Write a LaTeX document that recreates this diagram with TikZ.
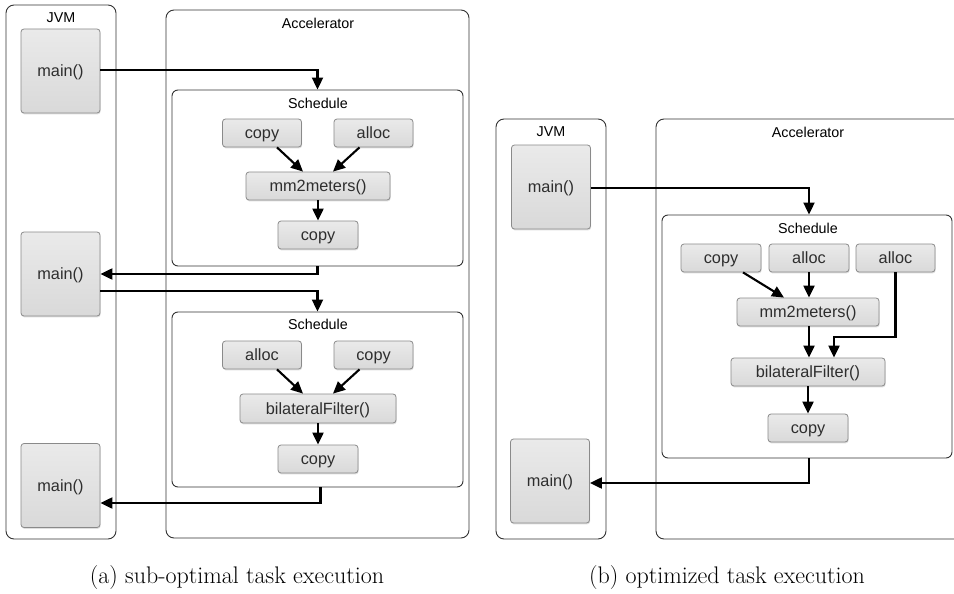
\documentclass[tikz,border=0pt]{standalone}
\usepackage{fontspec}
\setsansfont{Liberation Sans}
\usetikzlibrary{arrows.meta,shadows,calc}
\definecolor{taskborder}{HTML}{8A8A8A}
\definecolor{tasktop}{HTML}{EAEAEA}
\definecolor{taskbot}{HTML}{D9D9D9}
\definecolor{tasktext}{HTML}{2E2E2E}
\definecolor{frame}{HTML}{333333}
\newcommand{\tsk}[1]{\raisebox{-5.5pt}{#1}}
\tikzset{
  task/.style={draw=taskborder, line width=0.8pt, rounded corners=3pt,
    top color=tasktop, bottom color=taskbot, inner sep=0pt,
    minimum height=28pt, text height=0pt, text depth=0pt,
    drop shadow={shadow xshift=0.6pt, shadow yshift=-1.4pt, opacity=0.25},
    font=\sffamily\fontsize{16.3}{18}\selectfont, text=tasktext},
  mainbox/.style={task, minimum width=79pt, minimum height=84pt},
  container/.style={draw=frame, line width=0.9pt, rounded corners=8pt, fill=white, inner sep=0pt},
  lbl/.style={font=\sffamily\fontsize{14.3}{16}\selectfont, inner sep=0pt, text=black},
  arr/.style={line width=2.1pt, -{Triangle[length=12pt,width=11pt]}},
  captext/.style={font=\fontsize{24}{26}\selectfont, inner sep=0pt}
}
\begin{document}
\begin{tikzpicture}[x=1pt,y=-1pt]
\useasboundingbox (0,0) rectangle (954,594);
% ---------------- (a) ----------------
\node[container, minimum width=110pt, minimum height=534pt] (jvma) at (61,272) {};
\node[lbl] (jvmal) at (61,18) {JVM};
\node[container, minimum width=303pt, minimum height=528pt] (acca) at (317.5,274) {};
\node[lbl] (accal) at (318,23) {Accelerator};
\node[mainbox] (ma1) at (60.5,71) {\tsk{main()}};
\node[mainbox] (ma2) at (60.5,274) {\tsk{main()}};
\node[mainbox] (ma3) at (60.5,485.5) {\tsk{main()}};
\node[container, rounded corners=6pt, minimum width=291pt, minimum height=176pt] (sa1) at (317.5,178) {};
\node[lbl] (sa1l) at (318,103) {Schedule};
\node[task, minimum width=79pt] (ca1) at (262,133) {\tsk{copy}};
\node[task, minimum width=79pt] (aa1) at (373.5,133) {\tsk{alloc}};
\node[task, minimum width=144pt] (mma) at (318,186) {\tsk{mm2meters()}};
\node[task, minimum width=80pt] (ca2) at (318,235) {\tsk{copy}};
\node[container, rounded corners=6pt, minimum width=291pt, minimum height=175pt] (sa2) at (317.5,399.5) {};
\node[lbl] (sa2l) at (318,324) {Schedule};
\node[task, minimum width=79pt] (aa2) at (262,355) {\tsk{alloc}};
\node[task, minimum width=79pt] (ca3) at (373.5,355) {\tsk{copy}};
\node[task, minimum width=156pt, minimum height=29pt] (bfa) at (318,408.5) {\tsk{bilateralFilter()}};
\node[task, minimum width=80pt] (ca4) at (318,459) {\tsk{copy}};
% arrows (a)
\draw[arr] ([yshift=1pt]ma1.east) -| (sa1.north);
\draw[arr] (sa1.south) |- (ma2.east);
\draw[arr] ([yshift=-17pt]ma2.east) -| (sa2.north);
\draw[arr] ([xshift=3pt]sa2.south) |- ([yshift=-17.5pt]ma3.east);
\draw[arr] ([xshift=15pt]ca1.south) -- ([xshift=-15pt]mma.north);
\draw[arr] ([xshift=-14pt]aa1.south) -- ([xshift=15pt]mma.north);
\draw[arr] (mma.south) -- (ca2.north);
\draw[arr] ([xshift=15pt]aa2.south) -- ([xshift=-15pt]bfa.north);
\draw[arr] ([xshift=-14pt]ca3.south) -- ([xshift=15pt]bfa.north);
\draw[arr] (bfa.south) -- (ca4.north);
% ---------------- (b) ----------------
\node[container, minimum width=110pt, minimum height=420pt] (jvmb) at (551,329) {};
\node[lbl] (jvmbl) at (551,132) {JVM};
\node[container, minimum width=334pt, minimum height=420pt] (accb) at (823,329) {};
\node[lbl] (accbl) at (808,132) {Accelerator};
\node[mainbox] (mb1) at (551,187) {\tsk{main()}};
\node[mainbox] (mb2) at (550,481) {\tsk{main()}};
\node[container, rounded corners=6pt, minimum width=290pt, minimum height=243pt] (sb) at (807,336.5) {};
\node[lbl] (sbl) at (808,228) {Schedule};
\node[task, minimum width=80pt] (cb1) at (721,258) {\tsk{copy}};
\node[task, minimum width=80pt] (ab1) at (809,258) {\tsk{alloc}};
\node[task, minimum width=79pt] (ab2) at (895.5,258) {\tsk{alloc}};
\node[task, minimum width=142pt] (mmb) at (808,312) {\tsk{mm2meters()}};
\node[task, minimum width=154pt] (bfb) at (808,372) {\tsk{bilateralFilter()}};
\node[task, minimum width=80pt] (cb2) at (808,428) {\tsk{copy}};
\coordinate (kb) at (834,337);
% arrows (b)
\draw[arr] ([yshift=-1pt]mb1.east) -| ([xshift=2pt]sb.north);
\draw[arr] ([xshift=2pt]sb.south) |- ([yshift=-2pt]mb2.east);
\draw[arr] ([xshift=22pt]cb1.south) -- ([xshift=-24pt]mmb.north);
\draw[arr] (ab1.south) -- ([xshift=1pt]mmb.north);
\draw[arr] (ab2.south) |- (kb) -- (kb |- bfb.north);
\draw[arr] ([xshift=1pt]mmb.south) -- ([xshift=1pt]bfb.north);
\draw[arr] (bfb.south) -- (cb2.north);
% captions
\node[captext] (capa) at (237,578) {(a) sub-optimal task execution};
\node[captext] (capb) at (727,578) {(b) optimized task execution};
\end{tikzpicture}
\end{document}
